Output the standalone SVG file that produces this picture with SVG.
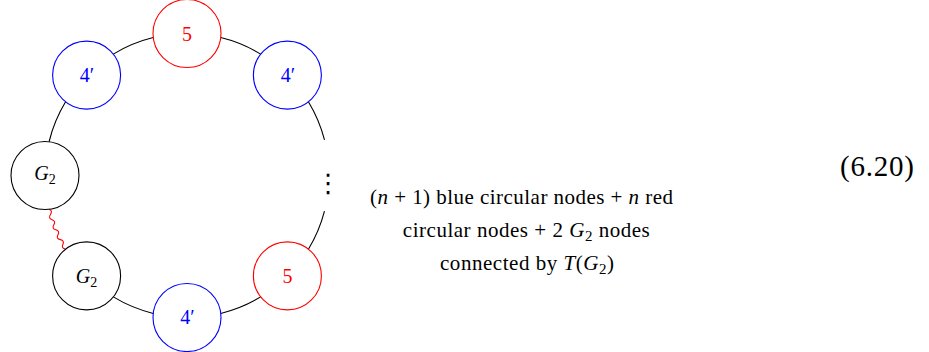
<svg xmlns="http://www.w3.org/2000/svg" width="929" height="352" viewBox="0 0 929 352">
<style>
  .node { fill: #ffffff; stroke-width: 1.1; }
  .blk { stroke: #000000; }
  .blu { stroke: #0000ff; }
  .red { stroke: #ff0000; }
  .edge { fill: none; stroke: #000000; stroke-width: 1.1; }
  .snake { fill: none; stroke: #ff0000; stroke-width: 1.1; stroke-linejoin: round; }
</style>
<rect x="0" y="0" width="929" height="352" fill="#ffffff"/>
<g id="connectors">
  <path class="edge" d="M49.07,141.75 A142,142 0 0 1 65.60,101.83"/>
  <path class="edge" d="M113.33,54.10 A142,142 0 0 1 153.25,37.57"/>
  <path class="edge" d="M220.75,37.57 A142,142 0 0 1 260.67,54.10"/>
  <path class="edge" d="M308.40,101.83 A142,142 0 0 1 324.48,139.95"/>
  <path class="edge" d="M324.48,211.05 A142,142 0 0 1 308.40,249.17"/>
  <path class="edge" d="M260.67,296.90 A142,142 0 0 1 220.75,313.43"/>
  <path class="edge" d="M153.25,313.43 A142,142 0 0 1 113.33,296.90"/>
  <path class="snake" transform="translate(49.07,209.25) rotate(67.5)" d="M0,0 Q2.7,-3.11 5.4,0.72 Q8.1,4.5 10.8,1.24 Q13.5,-2.08 16.2,1.55 Q18.9,5.12 21.6,1.65 Q24.3,-1.88 27,1.55 Q29.7,4.92 32.4,1.24 Q35.1,-2.5 37.8,0.72 Q40.5,3.89 43.2,0"/>
</g>
<g id="node-g2-left">
  <circle class="node blk" cx="45" cy="175.5" r="34"/>
  <text font-family="Liberation Serif" font-size="20" fill="#000000" text-anchor="middle" x="45" y="180"><tspan font-style="italic">G</tspan><tspan font-size="14" dy="4">2</tspan></text>
</g>
<g id="node-4p-topleft">
  <circle class="node blu" cx="86.6" cy="75.1" r="34"/>
  <text font-family="Liberation Serif" font-size="20" fill="#0000ff" text-anchor="middle" x="87" y="82">4&#8242;</text>
</g>
<g id="node-5-top">
  <circle class="node red" cx="187" cy="33.5" r="34"/>
  <text font-family="Liberation Serif" font-size="20" fill="#ff0000" text-anchor="middle" x="187" y="40.5">5</text>
</g>
<g id="node-4p-topright">
  <circle class="node blu" cx="287.4" cy="75.1" r="34"/>
  <text font-family="Liberation Serif" font-size="20" fill="#0000ff" text-anchor="middle" x="288" y="82">4&#8242;</text>
</g>
<g id="node-dots">
  <text x="328.3" y="192" font-family="DejaVu Sans" font-size="26" text-anchor="middle" fill="#000000">&#8942;</text>
</g>
<g id="node-5-bottomright">
  <circle class="node red" cx="287.4" cy="275.9" r="34"/>
  <text font-family="Liberation Serif" font-size="20" fill="#ff0000" text-anchor="middle" x="287.4" y="282.5">5</text>
</g>
<g id="node-4p-bottom">
  <circle class="node blu" cx="187" cy="317.5" r="34"/>
  <text font-family="Liberation Serif" font-size="20" fill="#0000ff" text-anchor="middle" x="187.5" y="324">4&#8242;</text>
</g>
<g id="node-g2-bottom">
  <circle class="node blk" cx="86.6" cy="275.9" r="34"/>
  <text font-family="Liberation Serif" font-size="20" fill="#000000" text-anchor="middle" x="86.6" y="282.5"><tspan font-style="italic">G</tspan><tspan font-size="14" dy="4">2</tspan></text>
</g>
<g id="caption">
  <text font-family="Liberation Serif" font-size="21" fill="#000000" text-anchor="middle" x="521.5" y="204" textLength="303">(<tspan font-style="italic">n</tspan> + 1) blue circular nodes + <tspan font-style="italic">n</tspan> red</text>
  <text font-family="Liberation Serif" font-size="21" fill="#000000" text-anchor="middle" x="526.3" y="237" textLength="247">circular nodes + 2 <tspan font-style="italic">G</tspan><tspan font-size="15" dy="4">2</tspan><tspan dy="-4"> nodes</tspan></text>
  <text font-family="Liberation Serif" font-size="21" fill="#000000" text-anchor="middle" x="527" y="270" textLength="174">connected by <tspan font-style="italic">T</tspan>(<tspan font-style="italic">G</tspan><tspan font-size="15" dy="4">2</tspan><tspan dy="-4">)</tspan></text>
</g>
<g id="equation-number">
  <text font-family="Liberation Serif" font-size="29" fill="#000000" text-anchor="middle" x="877" y="176" textLength="74">(6.20)</text>
</g>
</svg>
